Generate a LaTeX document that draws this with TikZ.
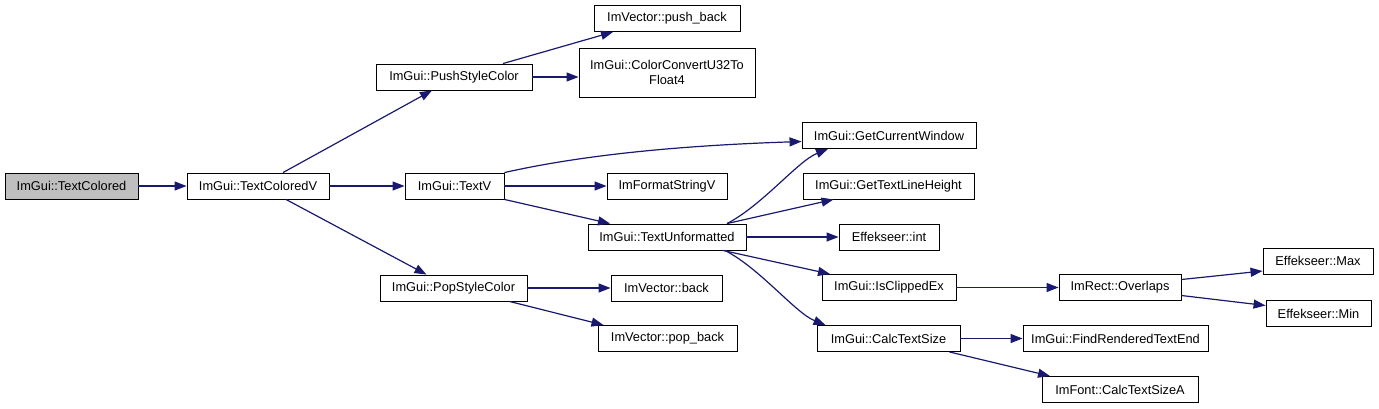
\documentclass[tikz,border=0pt]{standalone}
\usepackage{fontspec}
\setmainfont{Liberation Sans}
\usetikzlibrary{arrows.meta,calc}
\definecolor{edgeblue}{HTML}{191970}
\definecolor{grayfill}{HTML}{BFBFBF}
\begin{document}
\begin{tikzpicture}[x=1pt,y=-1pt,
  fn/.style={draw=black,line width=0.9pt,fill=white,inner sep=0pt,minimum height=26pt,align=center,font=\fontsize{12.8}{15}\selectfont},
  edge/.style={draw=edgeblue,line width=1.2pt,-{Triangle[length=12pt,width=9pt]}}]
\useasboundingbox (0,0) rectangle (1379,408);
\node[fn,fill=grayfill,minimum width=133pt] (tc) at (71.5,186) {ImGui::TextColored};
\node[fn,minimum width=142pt] (tcv) at (258,186) {ImGui::TextColoredV};
\node[fn,minimum width=156pt] (psc) at (454,77) {ImGui::PushStyleColor};
\node[fn,minimum width=146pt] (pb) at (667,18.5) {ImVector::push\_back};
\node[fn,minimum width=176pt,minimum height=49pt] (cc) at (667,72.5) {ImGui::ColorConvertU32To\\Float4};
\node[fn,minimum width=99pt] (tv) at (454.5,186) {ImGui::TextV};
\node[fn,minimum width=120pt] (fsv) at (667,186) {ImFormatStringV};
\node[fn,minimum width=158pt] (tu) at (667,237) {ImGui::TextUnformatted};
\node[fn,minimum width=147pt] (pop) at (453.5,288) {ImGui::PopStyleColor};
\node[fn,minimum width=111pt] (back) at (666.5,288) {ImVector::back};
\node[fn,minimum width=139pt] (popb) at (667.5,338.5) {ImVector::pop\_back};
\node[fn,minimum width=174pt] (gcw) at (889,135.5) {ImGui::GetCurrentWindow};
\node[fn,minimum width=171pt] (gtlh) at (888.5,186) {ImGui::GetTextLineHeight};
\node[fn,minimum width=100pt] (int) at (889,237) {Effekseer::int};
\node[fn,minimum width=134pt] (ice) at (889,287.5) {ImGui::IsClippedEx};
\node[fn,minimum width=143pt] (cts) at (888.5,338.5) {ImGui::CalcTextSize};
\node[fn,minimum width=185pt] (frte) at (1115.5,338.5) {ImGui::FindRenderedTextEnd};
\node[fn,minimum width=156pt] (ctsa) at (1120,389.5) {ImFont::CalcTextSizeA};
\node[fn,minimum width=122pt] (ovl) at (1120,287.5) {ImRect::Overlaps};
\node[fn,minimum width=110pt] (max) at (1318,261) {Effekseer::Max};
\node[fn,minimum width=105pt] (min) at (1318.5,313.5) {Effekseer::Min};

\draw[edge] (tc.east) -- (tcv.west);
\draw[edge] ([xshift=25pt]tcv.north) -- ([xshift=-22pt]psc.south);
\draw[edge] (tcv.east) -- (tv.west);
\draw[edge] ([xshift=28pt]tcv.south) -- ([xshift=-27pt]pop.north);
\draw[edge] ([xshift=49pt]psc.north) -- ([xshift=-54pt]pb.south);
\draw[edge] (psc.east) -- (psc.east -| cc.west);
\draw[edge] (tv.north east) .. controls +(80,-18) and +(-120,4) .. ([yshift=-6pt]gcw.west);
\draw[edge] (tv.east) -- (fsv.west);
\draw[edge] (tv.south east) -- ([xshift=-57pt]tu.north);
\draw[edge] ([xshift=60pt]tu.north) .. controls +(35,-18) and +(-30,12) .. ([xshift=-61pt]gcw.south);
\draw[edge] ([xshift=60pt]tu.north) -- ([xshift=-55pt]gtlh.south);
\draw[edge] (tu.east) -- (int.west);
\draw[edge] ([xshift=56pt]tu.south) -- ([xshift=-59pt]ice.north);
\draw[edge] ([xshift=58pt]tu.south) .. controls +(35,18) and +(-30,-12) .. ([xshift=-63pt]cts.north);
\draw[edge] (ice.east) -- (ovl.west);
\draw[edge] ([yshift=8pt]ovl.east) -- ([yshift=-10pt]max.west);
\draw[edge] ([yshift=-8pt]ovl.east) -- ([yshift=8pt]min.west);
\draw[edge] (cts.east) -- (frte.west);
\draw[edge] ([xshift=61pt]cts.south) -- ([xshift=-70pt]ctsa.north);
\draw[edge] (pop.east) -- (back.west);
\draw[edge] ([xshift=56pt]pop.south) -- ([xshift=-64pt]popb.north);
\end{tikzpicture}
\end{document}
